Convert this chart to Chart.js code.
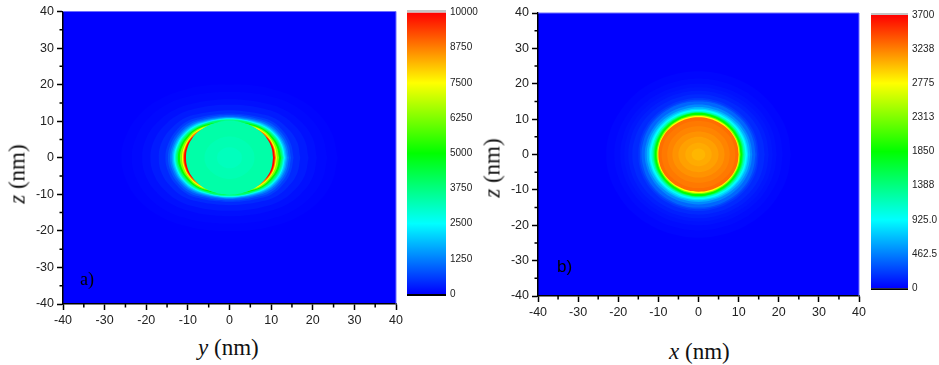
<!DOCTYPE html>
<html lang="en">
<head>
  <meta charset="UTF-8" />
  <title>Field maps</title>
  <style>
    body { margin: 0; background: #fff; width: 939px; height: 365px; position: relative; overflow: hidden; }
    canvas { position: absolute; }
    .label { position: absolute; font-family: "Liberation Serif", serif; font-size: 23px; color: #111; white-space: nowrap; line-height: 1; }
    .rot { transform: translate(-50%, -50%) rotate(-90deg); }
    .tag { position: absolute; color: #000; line-height: 1; }
  </style>
  <script src="https://cdn.jsdelivr.net/npm/chart.js"></script>
</head>
<body>
  <canvas id="map-a" width="410" height="334" style="left:0;top:0"></canvas>
  <canvas id="bar-a" width="80" height="306" style="left:402px;top:0"></canvas>
  <canvas id="map-b" width="395" height="326" style="left:478px;top:0"></canvas>
  <canvas id="bar-b" width="73" height="300" style="left:866px;top:0"></canvas>

  <div class="label rot" style="left:17px;top:174px"><i>z</i> (nm)</div>
  <div class="label rot" style="left:492px;top:168px"><i>z</i> (nm)</div>
  <div class="label" style="left:198px;top:336px"><i>y</i> (nm)</div>
  <div class="label" style="left:669px;top:340px"><i>x</i> (nm)</div>
  <div class="tag" style="left:80px;top:270px;font-family:'Liberation Serif',serif;font-size:18px">a)</div>
  <div class="tag" style="left:557px;top:258px;font-family:'Liberation Sans',sans-serif;font-size:17px">b)</div>

  <script>
    const axisTicks = [-40, -30, -20, -10, 0, 10, 20, 30, 40];
    const minorTicks = [-35, -25, -15, -5, 5, 15, 25, 35];

    // radii (nm) of each contour at 0,15,30,45,60,75,90 degrees, painted in this order
    const levelsA = [40, 80, 150, 250, 400, 600, 850, 1200, 1600, 2000, 2500, 3000, 3500, 4000, 5000, 6250, 7500, 8750, 10000, 3350, 3250, 3150];
    const radiiA = [
      [26.0, 25.5, 24.5, 23.0, 21.5, 20.5, 20.0],
      [23.5, 23.1, 22.2, 20.9, 19.4, 18.4, 18.0],
      [21.0, 20.7, 19.8, 18.6, 17.2, 16.3, 16.0],
      [19.0, 18.7, 17.9, 16.9, 15.6, 14.8, 14.5],
      [17.0, 16.8, 16.1, 15.3, 14.0, 13.2, 13.0],
      [15.4, 15.2, 14.8, 14.2, 13.0, 12.3, 12.1],
      [14.8, 14.6, 14.2, 13.6, 12.5, 11.9, 11.7],
      [14.3, 14.1, 13.7, 13.1, 12.1, 11.5, 11.3],
      [13.9, 13.7, 13.3, 12.7, 11.8, 11.2, 11.1],
      [13.6, 13.4, 13.0, 12.4, 11.5, 11.0, 10.9],
      [13.3, 13.1, 12.7, 12.1, 11.3, 10.85, 10.75],
      [13.1, 12.9, 12.5, 11.9, 11.15, 10.7, 10.6],
      [12.9, 12.7, 12.3, 11.7, 11.0, 10.6, 10.45],
      [12.7, 12.5, 12.1, 11.5, 10.9, 10.5, 10.1],
      [12.4, 12.2, 11.8, 11.3, 10.6, 10.0, 9.9],
      [11.9, 11.75, 11.4, 11.0, 10.3, 9.8, 9.7],
      [11.4, 11.3, 11.05, 10.7, 10.0, 9.6, 9.5],
      [11.15, 11.05, 10.85, 10.4, 9.7, 9.4, 9.3],
      [10.9, 10.85, 10.6, 10.0, 9.5, 9.2, 9.1],
      [10.45, 10.45, 10.4, 10.3, 10.2, 10.15, 10.1],
      [6.0, 6.0, 5.9, 5.8, 5.8, 5.8, 5.8],
      [3.0, 3.0, 3.0, 2.9, 2.9, 2.9, 2.9]
    ];

    const levelsB = [20, 40, 60, 80, 110, 150, 200, 270, 370, 500, 650, 800, 925, 1150, 1400, 1650, 1850, 2300, 2775, 3300, 3260, 3220, 3170, 3120, 3080, 3040];
    const radiiB = [
      [23.0, 23.0, 23.0, 23.2, 23.3, 23.4, 23.5],
      [21.0, 21.0, 21.0, 21.2, 21.3, 21.4, 21.5],
      [19.5, 19.5, 19.6, 19.7, 19.8, 19.9, 20.0],
      [18.5, 18.5, 18.6, 18.7, 18.8, 18.9, 19.0],
      [17.5, 17.5, 17.6, 17.7, 17.8, 17.9, 18.0],
      [16.5, 16.5, 16.6, 16.7, 16.8, 16.9, 17.0],
      [15.0, 15.1, 15.3, 15.5, 15.7, 15.9, 16.0],
      [14.6, 14.7, 14.8, 15.0, 15.2, 15.4, 15.5],
      [14.2, 14.2, 14.4, 14.6, 14.8, 15.0, 15.0],
      [13.4, 13.4, 13.5, 13.7, 13.9, 14.0, 14.1],
      [12.9, 12.9, 13.0, 13.1, 13.2, 13.3, 13.4],
      [12.4, 12.4, 12.5, 12.6, 12.8, 12.9, 12.95],
      [12.1, 12.1, 12.2, 12.3, 12.4, 12.55, 12.6],
      [11.7, 11.7, 11.8, 11.95, 12.05, 12.2, 12.25],
      [11.3, 11.35, 11.45, 11.6, 11.75, 11.9, 12.0],
      [11.05, 11.1, 11.2, 11.35, 11.55, 11.7, 11.8],
      [10.85, 10.9, 11.0, 11.15, 11.35, 11.6, 11.7],
      [10.45, 10.5, 10.6, 10.75, 10.9, 11.1, 11.15],
      [10.2, 10.25, 10.35, 10.5, 10.65, 10.8, 10.85],
      [10.0, 10.05, 10.15, 10.25, 10.35, 10.45, 10.5],
      [9.2, 9.2, 9.3, 9.3, 9.4, 9.5, 9.5],
      [7.8, 7.8, 7.9, 7.9, 8.0, 8.0, 8.0],
      [6.5, 6.5, 6.5, 6.5, 6.5, 6.5, 6.5],
      [5.0, 5.0, 5.0, 5.0, 5.0, 5.0, 5.0],
      [3.3, 3.3, 3.3, 3.3, 3.3, 3.3, 3.3],
      [1.7, 1.7, 1.7, 1.7, 1.7, 1.7, 1.7]
    ];

    const barTicksA = [0, 1250, 2500, 3750, 5000, 6250, 7500, 8750, 10000];
    const barLabelsA = ['0', '1250', '2500', '3750', '5000', '6250', '7500', '8750', '10000'];
    const barTicksB = [0, 462.5, 925, 1388, 1850, 2313, 2775, 3238, 3700];
    const barLabelsB = ['0', '462.5', '925.0', '1388', '1850', '2313', '2775', '3238', '3700'];

    const rainbow = [[0, 0, 255], [0, 255, 255], [0, 255, 0], [255, 255, 0], [255, 0, 0]];

    function colorFor(v, max) {
      const t = Math.min(v / max, 1) * 4;
      const i = Math.min(Math.floor(t), 3);
      const f = t - i;
      const c = rainbow[i].map((a, k) => Math.round(a + (rainbow[i + 1][k] - a) * f));
      return `rgb(${c[0]},${c[1]},${c[2]})`;
    }

    // one quadrant of radii is mirrored round into a closed outline
    function outline(radii) {
      const pts = [];
      const step = 15 * Math.PI / 180;
      const n = radii.length - 1;
      for (let k = 0; k <= 4 * n; k++) {
        const q = Math.floor(k / n) % 4;
        const j = k % n;
        const idx = k === 4 * n ? 0 : (q % 2 === 0 ? j : n - j);
        pts.push({ x: radii[idx] * Math.cos(k * step), y: radii[idx] * Math.sin(k * step) });
      }
      return pts;
    }

    const mapPlugin = {
      id: 'mapFrame',
      beforeDraw(chart) {
        const a = chart.chartArea;
        chart.ctx.fillStyle = colorFor(0, 1);
        chart.ctx.fillRect(a.left, a.top, a.right - a.left, a.bottom - a.top);
      },
      afterDraw(chart) {
        const ctx = chart.ctx;
        const a = chart.chartArea;
        ctx.save();
        // the scan leaves a pale edge along the top and right of the map
        ctx.strokeStyle = 'rgb(110,110,255)';
        ctx.lineWidth = 1;
        ctx.beginPath();
        ctx.moveTo(a.left, a.top); ctx.lineTo(a.right, a.top); ctx.lineTo(a.right, a.bottom);
        ctx.stroke();
        ctx.strokeStyle = '#000';
        ctx.lineWidth = 1.5;
        ctx.beginPath();
        minorTicks.forEach(v => {
          const px = chart.scales.x.getPixelForValue(v);
          const py = chart.scales.y.getPixelForValue(v);
          ctx.moveTo(px, a.bottom); ctx.lineTo(px, a.bottom + 3.5);
          ctx.moveTo(a.left, py); ctx.lineTo(a.left - 3.5, py);
        });
        ctx.stroke();
        ctx.restore();
      }
    };

    function axis(pos, fit) {
      return {
        type: 'linear', position: pos, min: -40, max: 40,
        afterBuildTicks: s => { s.ticks = axisTicks.map(value => ({ value })); },
        afterFit: fit,
        border: { color: '#000', width: 1.5 },
        grid: { drawOnChartArea: false, color: '#000', tickColor: '#000', tickLength: 6, tickWidth: 1.5 },
        ticks: { color: '#222', padding: 3, maxRotation: 0, font: { family: 'Liberation Sans', size: 12.5 } }
      };
    }

    function drawMap(id, levels, radii, max, top, yWidth) {
      // Chart.js paints the first dataset on top, so the list is reversed
      const datasets = levels.map((lv, i) => ({
        data: outline(radii[i]),
        showLine: true,
        fill: 'shape',
        tension: 0.4,
        borderWidth: 0,
        pointRadius: 0,
        backgroundColor: colorFor(lv, max)
      })).reverse();
      new Chart(document.getElementById(id), {
        type: 'scatter',
        data: { datasets },
        plugins: [mapPlugin],
        options: {
          responsive: false, animation: false,
          layout: { padding: { top, right: 14, left: 0, bottom: 0 } },
          plugins: { legend: { display: false }, tooltip: { enabled: false } },
          scales: {
            x: axis('bottom', s => { s.height = 30; }),
            y: axis('left', s => { s.width = yWidth; })
          }
        }
      });
    }

    function drawBar(id, ticks, labels, lo, hi, max, pad, yWidth) {
      const gradient = ctx => {
        const { chart } = ctx;
        if (!chart.chartArea) return '#00f';
        const y = chart.scales.y;
        const g = chart.ctx.createLinearGradient(0, y.getPixelForValue(0), 0, y.getPixelForValue(max));
        rainbow.forEach((c, i) => g.addColorStop(i / 4, `rgb(${c[0]},${c[1]},${c[2]})`));
        return g;
      };
      new Chart(document.getElementById(id), {
        type: 'bar',
        data: {
          labels: [''],
          datasets: [
            { data: [[lo, 0]], backgroundColor: '#000', inflateAmount: 0 },
            { data: [[max, hi]], backgroundColor: '#c4c4c4', inflateAmount: 0 },
            { data: [[0, max]], backgroundColor: gradient, inflateAmount: 0 }
          ]
        },
        options: {
          responsive: false, animation: false, grouped: false,
          barPercentage: 1, categoryPercentage: 1,
          layout: { padding: pad },
          plugins: { legend: { display: false }, tooltip: { enabled: false } },
          scales: {
            x: { display: false },
            y: {
              position: 'right', min: lo, max: hi,
              afterBuildTicks: s => { s.ticks = ticks.map(value => ({ value })); },
              afterFit: s => { s.width = yWidth; },
              border: { display: false },
              grid: { display: false, drawTicks: false },
              ticks: {
                color: '#222', padding: 4, autoSkip: false,
                font: { family: 'Liberation Sans', size: 10 },
                callback: (v, i) => labels[i]
              }
            }
          }
        }
      });
    }

    drawMap('map-a', levelsA, radiiA, 10000, 11.5, 63);
    drawBar('bar-a', barTicksA, barLabelsA, -70, 10090, 10000, { top: 10, bottom: 8, left: 5 }, 36);
    drawMap('map-b', levelsB, radiiB, 3700, 13, 60);
    drawBar('bar-b', barTicksB, barLabelsB, -25, 3727, 3700, { top: 13, bottom: 9, left: 5 }, 31);
  </script>
</body>
</html>
